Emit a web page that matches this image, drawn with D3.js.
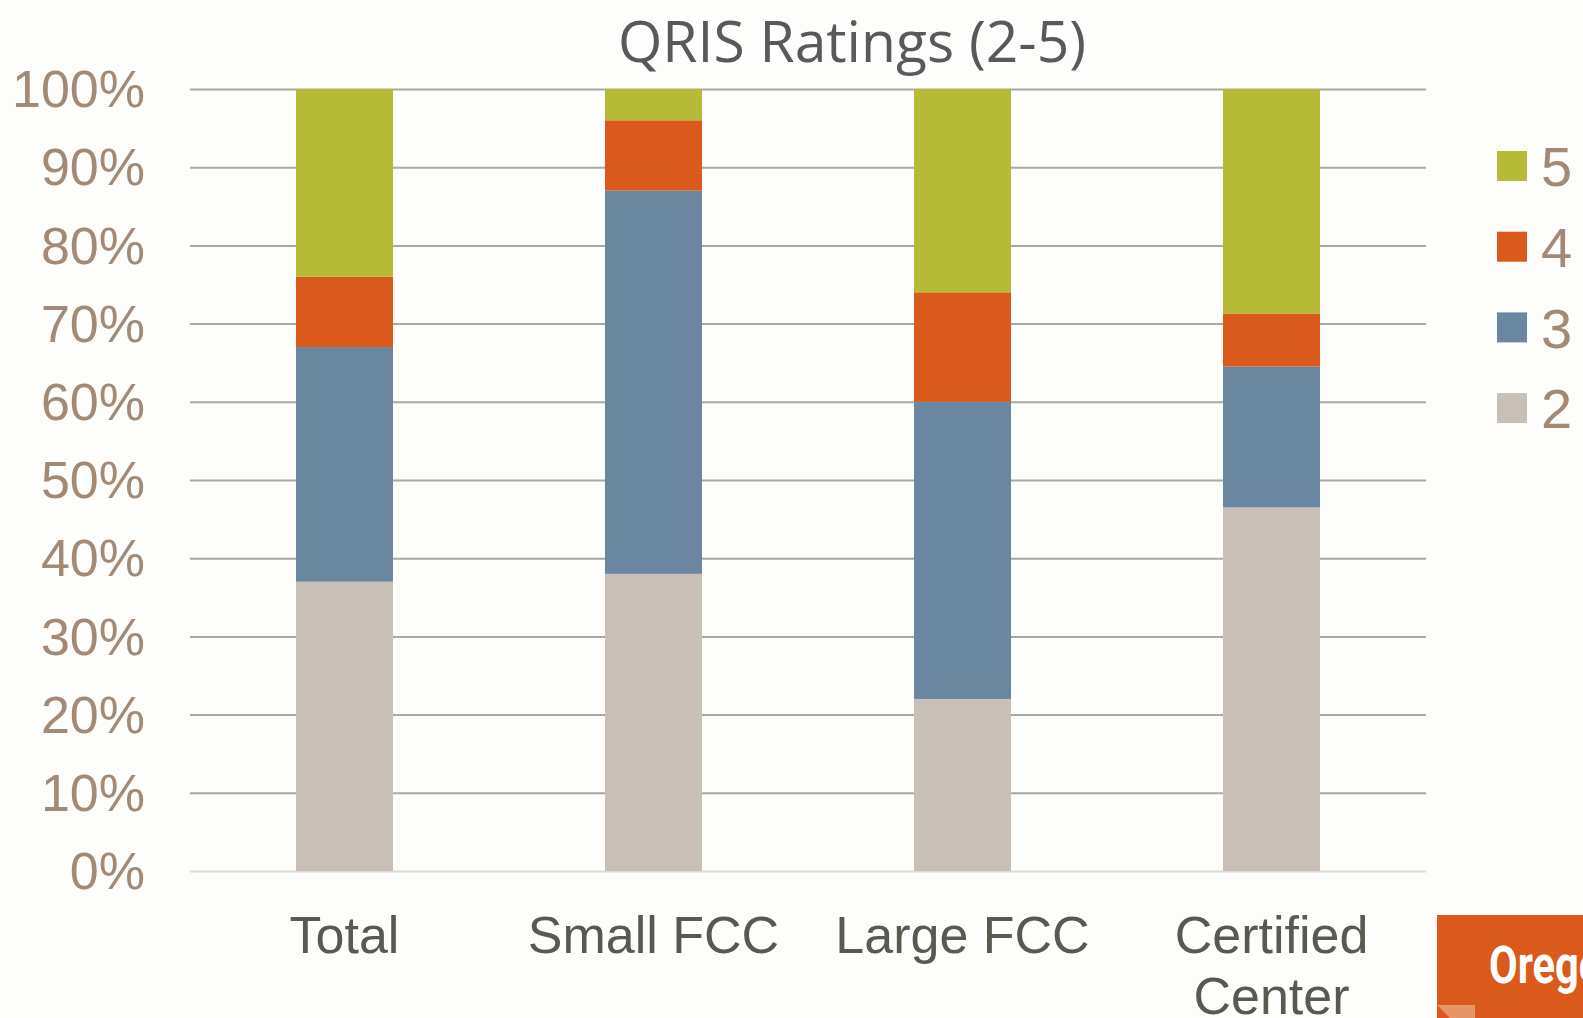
<!DOCTYPE html>
<html>
<head>
<meta charset="utf-8">
<script src="https://cdn.jsdelivr.net/npm/d3@7"></script>
<style>
  html, body { margin: 0; padding: 0; background: #fdfefb; }
  svg { display: block; }
  .tick-label { font-family: "Liberation Sans", Arial, sans-serif; font-size: 52px; fill: #a38a77; }
  .cat-label { font-family: "Liberation Sans", Arial, sans-serif; font-size: 52px; fill: #575a50; }
  .title { font-family: "Open Sans", "Noto Sans", sans-serif; font-size: 57px; fill: #595959; }
  .legend-label { font-family: "Liberation Sans", Arial, sans-serif; font-size: 56px; fill: #a38a77; }
</style>
</head>
<body>
<svg width="1583" height="1018"></svg>
<script>
const categories = ['Total', 'Small FCC', 'Large FCC', 'Certified Center'];
const ratings = ['2', '3', '4', '5'];
const rating2 = [37, 38, 22, 46.5];
const rating3 = [30, 49, 38, 18];
const rating4 = [9, 9, 14, 6.8];
const rating5 = [24, 4, 26, 28.7];
const yTicks = [0, 10, 20, 30, 40, 50, 60, 70, 80, 90, 100];
const colors = ['#c8c0b7', '#6b879f', '#d95a1a', '#b5bb36'];

const svg = d3.select('svg');
const width = +svg.attr('width');
const height = +svg.attr('height');

const margin = { top: 89, right: 157, bottom: 147, left: 190 };
const innerWidth = width - margin.left - margin.right;
const innerHeight = height - margin.top - margin.bottom;

const data = categories.map((c, i) => ({
    category: c,
    '2': rating2[i], '3': rating3[i], '4': rating4[i], '5': rating5[i]
}));

const series = d3.stack().keys(ratings)(data);

const xScale = d3.scaleBand()
    .domain(categories)
    .range([0, innerWidth])
    .paddingInner(0.686)
    .paddingOuter(0.343);

const yScale = d3.scaleLinear()
    .domain([0, 100])
    .range([innerHeight, 0]);

const colorScale = d3.scaleOrdinal().domain(ratings).range(colors);

const g = svg.append('g')
    .attr('transform', `translate(${margin.left},${margin.top})`);

// gridlines + percent labels
const yAxis = d3.axisLeft(yScale)
    .tickValues(yTicks)
    .tickSize(-innerWidth)
    .tickFormat(d => d + '%')
    .tickPadding(45);

const yAxisG = g.append('g').call(yAxis);
yAxisG.select('.domain').remove();
yAxisG.selectAll('.tick line')
    .attr('stroke', d => d === 0 ? '#dcdcd8' : '#a8a8a4')
    .attr('stroke-width', 2);
yAxisG.selectAll('.tick text')
    .attr('class', 'tick-label')
    .attr('dy', '0.34em');
yAxisG.attr('font-size', null).attr('font-family', null);

// bars
g.selectAll('.layer').data(series)
    .enter().append('g')
    .attr('class', 'layer')
    .attr('fill', d => colorScale(d.key))
    .selectAll('rect').data(d => d)
    .enter().append('rect')
    .attr('x', d => xScale(d.data.category))
    .attr('y', d => yScale(d[1]))
    .attr('width', xScale.bandwidth())
    .attr('height', d => yScale(d[0]) - yScale(d[1]));

// category labels
const catLabels = g.selectAll('.cat-label').data(categories)
    .enter().append('text')
    .attr('class', 'cat-label')
    .attr('text-anchor', 'middle')
    .attr('x', d => xScale(d) + xScale.bandwidth() / 2)
    .attr('y', innerHeight + 82);

catLabels.each(function (d) {
    const t = d3.select(this);
    const words = d === 'Certified Center' ? ['Certified', 'Center'] : [d];
    words.forEach((w, i) => {
        t.append('tspan')
            .attr('x', xScale(d) + xScale.bandwidth() / 2)
            .attr('dy', i === 0 ? 0 : 61)
            .text(w);
    });
});

// title
svg.append('text')
    .attr('class', 'title')
    .attr('text-anchor', 'middle')
    .attr('x', 852)
    .attr('y', 62)
    .text('QRIS Ratings (2-5)');

// legend
const legendKeys = ratings.slice().reverse();
const legend = svg.append('g')
    .attr('transform', 'translate(1497,151)');

const legendItem = legend.selectAll('g').data(legendKeys)
    .enter().append('g')
    .attr('transform', (d, i) => `translate(0,${i * 80.7})`);

legendItem.append('rect')
    .attr('width', 30)
    .attr('height', 30)
    .attr('fill', d => colorScale(d));

legendItem.append('text')
    .attr('class', 'legend-label')
    .attr('x', 44)
    .attr('y', 15)
    .attr('dy', '0.36em')
    .text(d => d);

// Oregon badge in the corner
const badge = svg.append('g');
badge.append('rect')
    .attr('x', 1437)
    .attr('y', 915)
    .attr('width', 200)
    .attr('height', 120)
    .attr('fill', '#d95a1a');
badge.append('path')
    .attr('d', 'M1437,1005 L1475,1005 L1475,1018 L1450,1018 Z')
    .attr('fill', '#e8956b');
badge.append('text')
    .attr('transform', 'translate(1489,983) scale(0.8,1)')
    .attr('fill', '#ffffff')
    .attr('font-family', 'Roboto, "Liberation Sans", sans-serif')
    .attr('font-weight', 'bold')
    .attr('font-size', 52)
    .text('Oregon');
</script>
</body>
</html>
